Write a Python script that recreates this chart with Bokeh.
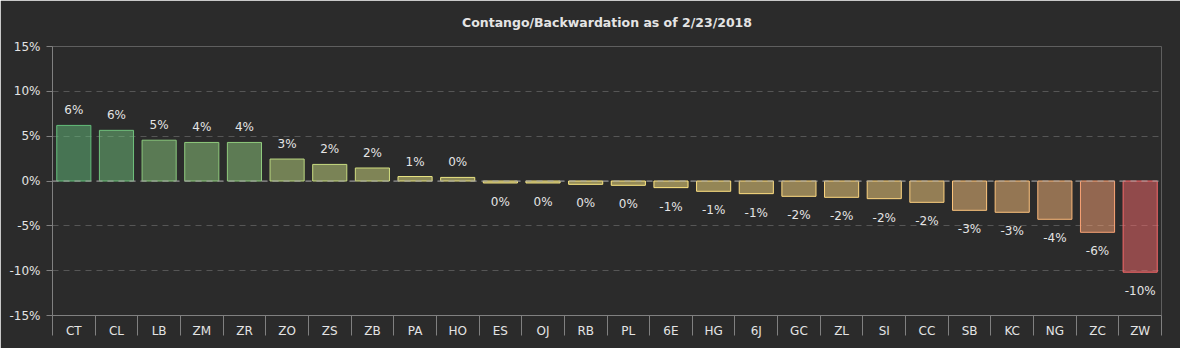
from bokeh.plotting import figure
from bokeh.models import Range1d, FixedTicker, Span, ColumnDataSource
from bokeh.core.properties import value
from bokeh.embed import file_html
from bokeh.resources import INLINE
import numpy as np

title_text = "Contango/Backwardation as of 2/23/2018"
categories = ["CT", "CL", "LB", "ZM", "ZR", "ZO", "ZS", "ZB", "PA", "HO", "ES", "OJ", "RB",
              "PL", "6E", "HG", "6J", "GC", "ZL", "SI", "CC", "SB", "KC", "NG", "ZC", "ZW"]
values = [6.2, 5.65, 4.55, 4.3, 4.3, 2.45, 1.85, 1.45, 0.5, 0.4, -0.22, -0.22, -0.37,
          -0.48, -0.74, -1.15, -1.41, -1.71, -1.82, -1.97, -2.38, -3.27, -3.49, -4.27, -5.72, -10.17]
value_labels = ["6%", "6%", "5%", "4%", "4%", "3%", "2%", "2%", "1%", "0%", "0%", "0%", "0%",
                "0%", "-1%", "-1%", "-1%", "-2%", "-2%", "-2%", "-2%", "-3%", "-3%", "-4%", "-6%", "-10%"]
y_ticks = [-15, -10, -5, 0, 5, 10, 15]
y_tick_labels = ["-15%", "-10%", "-5%", "0%", "5%", "10%", "15%"]

BG = "#2b2b2b"
TXT = "#e4e4e4"
FONT = "DejaVu Sans"

# 3-colour scale (red - yellow - green)
red = np.array([248, 105, 107])
yel = np.array([255, 235, 132])
grn = np.array([99, 190, 123])
vmin, vmax = min(values), max(values)
vmid = float(np.percentile(values, 50))

def scale_color(v):
    if v >= vmid:
        t = (v - vmid) / (vmax - vmid)
        c = yel + (grn - yel) * t
    else:
        t = (vmid - v) / (vmid - vmin)
        c = yel + (red - yel) * t
    c = np.clip(np.round(c), 0, 255).astype(int)
    return "#%02x%02x%02x" % tuple(c)

colors = [scale_color(v) for v in values]
n = len(categories)
centers = [i + 0.5 for i in range(n)]
bounds = [float(i) for i in range(n + 1)]

pos = [v >= 0 for v in values]
src = ColumnDataSource(dict(x=centers, top=values, color=colors, label=value_labels))
src_pos = ColumnDataSource(dict(x=[c for c, p in zip(centers, pos) if p],
                                y=[v for v, p in zip(values, pos) if p],
                                label=[l for l, p in zip(value_labels, pos) if p]))
src_neg = ColumnDataSource(dict(x=[c for c, p in zip(centers, pos) if not p],
                                y=[v for v, p in zip(values, pos) if not p],
                                label=[l for l, p in zip(value_labels, pos) if not p]))

p = figure(width=1180, height=348, output_backend="svg", toolbar_location=None,
           x_range=Range1d(0, n), y_range=Range1d(-15, 15),
           min_border_left=52, min_border_right=19, min_border_top=46, min_border_bottom=33,
           background_fill_color=BG, border_fill_color=BG)
p.outline_line_color = None

# trailing blank line lifts the title towards the top edge
p.title.text = title_text + "\n "
p.title.align = "center"
p.title.text_font = FONT
p.title.text_font_style = "bold"
p.title.text_font_size = "12.5px"
p.title.text_color = TXT
p.title.standoff = 4

p.vbar(x="x", top="top", bottom=0, width=0.8, source=src,
       fill_color="color", fill_alpha=0.5, line_color="color", line_width=1)

p.text(x="x", y="y", text="label", source=src_pos, text_align="center",
       text_baseline="bottom", y_offset=-8, text_font=value(FONT),
       text_font_size="12px", text_color=TXT)
p.text(x="x", y="y", text="label", source=src_neg, text_align="center",
       text_baseline="top", y_offset=12, text_font=value(FONT),
       text_font_size="12px", text_color=TXT)

# grid
p.xgrid.visible = False
p.ygrid.ticker = FixedTicker(ticks=y_ticks)
p.ygrid.grid_line_color = "#565656"
p.ygrid.grid_line_dash = "6 5"
p.add_layout(Span(location=0, dimension="width", line_color="#9a9a9a",
                  line_dash="6 5", line_width=1))

# y axis
ya = p.yaxis[0]
ya.ticker = FixedTicker(ticks=y_ticks)
ya.major_label_overrides = {t: l for t, l in zip(y_ticks, y_tick_labels)}
ya.axis_line_color = "#808080"
ya.major_tick_line_color = "#808080"
ya.major_tick_out = 6
ya.major_tick_in = 0
ya.minor_tick_line_color = None
ya.major_label_standoff = 6
ya.major_label_text_color = TXT
ya.major_label_text_font = FONT
ya.major_label_text_font_size = "12px"

# x axis
xa = p.xaxis[0]
xa.ticker = FixedTicker(ticks=centers, minor_ticks=bounds)
xa.major_label_overrides = {c: l for c, l in zip(centers, categories)}
xa.axis_line_color = "#808080"
xa.major_tick_line_color = None
xa.major_tick_out = 0
xa.major_tick_in = 0
xa.minor_tick_line_color = "#808080"
xa.minor_tick_out = 20
xa.minor_tick_in = 0
xa.major_label_standoff = -12
xa.major_label_text_color = TXT
xa.major_label_text_font = FONT
xa.major_label_text_font_size = "12px"

open("out.html", "w").write(file_html(p, INLINE))
